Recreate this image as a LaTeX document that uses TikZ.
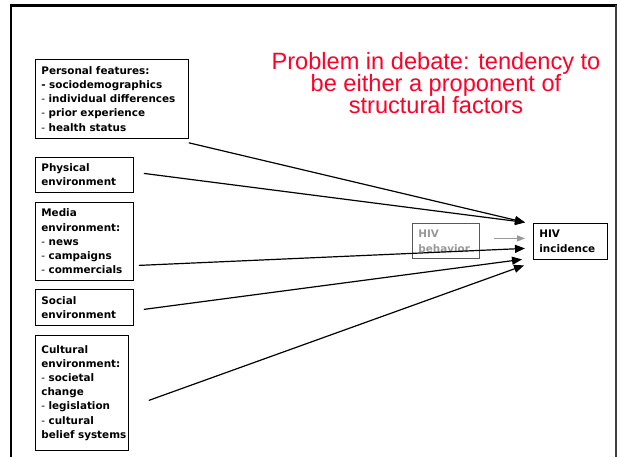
\documentclass[tikz,border=0pt]{standalone}
\usepackage{fontspec}
\setmainfont{Liberation Sans}
\newfontfamily\boxfont{DejaVu Sans}
\usetikzlibrary{arrows.meta}
\definecolor{titlered}{RGB}{255,0,40}
\begin{document}
\begin{tikzpicture}[x=1pt,y=-1pt,
  factor/.style={draw=black, line width=0.8pt, fill=white, anchor=north west,
    inner xsep=6pt, inner ysep=0pt, align=left,
    font=\boxfont\bfseries\fontsize{10.4}{14.2}\selectfont},
  behbox/.style={factor, draw=black!65, text=black!40,
    font=\boxfont\bfseries\fontsize{10.4}{15}\selectfont},
  incbox/.style={factor, font=\boxfont\bfseries\fontsize{10.4}{15}\selectfont},
  influence/.style={line width=1.2pt, -{Triangle[length=10pt,width=8pt]}},
  grayarrow/.style={line width=1.1pt, draw=black!40, -{Triangle[length=8pt,width=6pt]}},
  titletext/.style={text=titlered, align=center, inner sep=0pt, anchor=north,
    font=\fontsize{23.6}{22}\selectfont}]
\useasboundingbox (0,0) rectangle (620,457);
\fill[white] (0,0) rectangle (620,457);
% slide frame
\draw[line width=2.4pt] (11,457) -- (11,5.5) -- (617,5.5);
\draw[line width=1.6pt, black!75] (616,5) -- (616,457);

\node[titletext] (title) at (436,52.5) {Problem in debate: tendency to\\be either a proponent of\\structural factors};

\node[factor, text width=141pt, minimum height=79pt] (pers) at (35,59)
  {Personal features:\\- sociodemographics\\\textmd{-} individual differences\\\textmd{-} prior experience\\\textmd{-} health status};
\node[factor, text width=86pt, minimum height=35pt] (phys) at (35,157)
  {Physical\\environment};
\node[factor, text width=86pt, minimum height=78pt] (media) at (35,202)
  {Media\\environment:\\\textmd{-} news\\\textmd{-} campaigns\\\textmd{-} commercials};
\node[factor, text width=86pt, minimum height=36pt] (social) at (35,289)
  {Social\\environment};
\node[factor, text width=81pt, minimum height=115pt] (cult) at (35,335)
  {Cultural\\environment:\\\textmd{-} societal\\change\\\textmd{-} legislation\\\textmd{-} cultural\\\mbox{belief systems}};

\node[behbox, text width=55pt, minimum height=35pt] (beh) at (412,223)
  {HIV\\behavior};
\node[incbox, text width=62pt, minimum height=36pt] (inc) at (533,223)
  {HIV\\incidence};

\draw[grayarrow] ([shift={(14,-2.5)}]beh.east) -- ([shift={(-8,-3)}]inc.west);
\draw[influence] ([shift={(0,4)}]pers.south east) -- ([shift={(-8,-19)}]inc.west);
\draw[influence] ([shift={(10,-1.5)}]phys.east) -- ([shift={(-8,-19)}]inc.west);
\draw[influence] ([shift={(5,24)}]media.east) -- ([shift={(-8,7)}]inc.west);
\draw[influence] ([shift={(10,2)}]social.east) -- ([shift={(-11,18)}]inc.west);
\draw[influence] ([shift={(20,7.5)}]cult.east) -- ([shift={(-9,24)}]inc.west);
\end{tikzpicture}
\end{document}
